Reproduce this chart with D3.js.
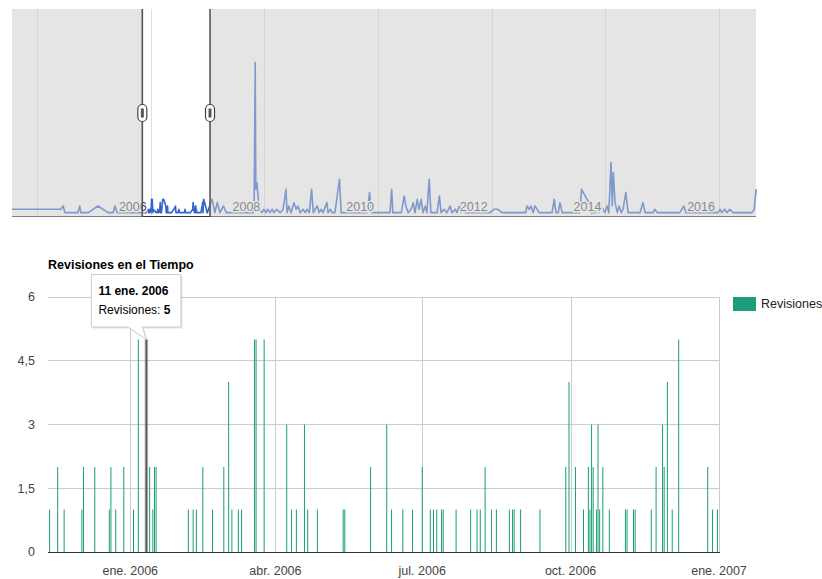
<!DOCTYPE html>
<html>
<head>
<meta charset="utf-8">
<script src="https://cdn.jsdelivr.net/npm/d3@7"></script>
<style>
body { margin: 0; background: #fff; }
svg { display: block; font-family: Arial, "Liberation Sans", sans-serif; }
</style>
</head>
<body>
<div id="chart"></div>
<script>
// daily revisions shown in the main chart
const revDates = ["2005-11-12", "2005-11-17", "2005-11-21", "2005-12-02", "2005-12-03", "2005-12-10", "2005-12-19", "2005-12-20", "2005-12-23", "2005-12-28",
    "2006-01-03", "2006-01-06", "2006-01-11", "2006-01-13", "2006-01-15", "2006-01-16", "2006-01-17",
    "2006-02-06", "2006-02-09", "2006-02-11", "2006-02-15", "2006-02-21", "2006-02-28", "2006-03-03", "2006-03-05", "2006-03-09", "2006-03-11", "2006-03-19", "2006-03-20", "2006-03-25",
    "2006-04-08", "2006-04-11", "2006-04-14", "2006-04-19", "2006-04-21", "2006-04-27",
    "2006-05-13", "2006-05-14", "2006-05-30", "2006-06-09", "2006-06-12", "2006-06-19", "2006-06-25",
    "2006-07-01", "2006-07-06", "2006-07-08", "2006-07-10", "2006-07-13", "2006-07-14", "2006-07-22",
    "2006-07-31", "2006-08-04", "2006-08-06", "2006-08-09", "2006-08-13", "2006-08-16", "2006-08-24", "2006-08-26", "2006-08-27", "2006-08-31",
    "2006-09-12", "2006-09-28", "2006-09-30",
    "2006-10-04", "2006-10-09", "2006-10-12", "2006-10-13", "2006-10-14", "2006-10-15", "2006-10-17", "2006-10-18", "2006-10-19", "2006-10-21", "2006-10-25",
    "2006-11-04", "2006-11-05", "2006-11-09", "2006-11-10", "2006-11-20", "2006-11-23", "2006-11-27", "2006-11-28", "2006-11-30", "2006-12-03", "2006-12-07", "2006-12-25", "2006-12-28", "2006-12-31"];
const revValues = [1, 2, 1, 1, 2, 2, 1, 2, 1, 2,
    1, 5, 5, 2, 1, 2, 2,
    1, 1, 1, 2, 1, 2, 4, 1, 1, 1, 5, 5, 5,
    3, 1, 1, 3, 1, 1,
    1, 1, 2, 3, 1, 1, 1,
    2, 1, 1, 1, 1, 1, 1,
    1, 1, 1, 2, 1, 1, 1, 1, 1, 1,
    1, 2, 4,
    2, 1, 2, 1, 3, 2, 1, 3, 1, 2, 1,
    1, 1, 1, 1, 1, 2, 3, 2, 4, 1, 5, 2, 1, 1];

// range filter series outside the main window (decimal years)
const navYears = [2003.56, 2004.42, 2004.46, 2004.49, 2004.72, 2004.75, 2004.77, 2004.90, 2005.07, 2005.25, 2005.34, 2005.37, 2005.41, 2005.81,
    2007.08, 2007.13, 2007.17, 2007.22, 2007.28, 2007.33, 2007.80, 2007.82, 2007.84, 2007.85, 2007.87, 2007.89, 2007.91, 2007.96, 2007.99,
    2008.03, 2008.06, 2008.10, 2008.14, 2008.17, 2008.22, 2008.28, 2008.33, 2008.38, 2008.40, 2008.43, 2008.47, 2008.52, 2008.56, 2008.59,
    2008.63, 2008.68, 2008.72, 2008.75, 2008.79, 2008.83, 2008.86, 2008.89, 2008.93, 2008.96, 2009.00, 2009.03, 2009.10, 2009.12, 2009.16,
    2009.19, 2009.24, 2009.32, 2009.35, 2009.81, 2009.85, 2009.88, 2010.21, 2010.24, 2010.26, 2010.41, 2010.46, 2010.49, 2010.53, 2010.58,
    2010.62, 2010.65, 2010.69, 2010.72, 2010.76, 2010.79, 2010.83, 2010.86, 2010.90, 2010.93, 2011.04, 2011.08, 2011.11, 2011.16, 2011.21,
    2011.27, 2011.30, 2011.36, 2011.39, 2011.43, 2011.46, 2011.50, 2011.53, 2011.97, 2012.04, 2012.11, 2012.18, 2012.60, 2012.62, 2012.66,
    2012.69, 2012.73, 2012.76, 2012.80, 2012.83, 2013.06, 2013.10, 2013.13, 2013.17, 2013.20, 2013.24, 2013.55, 2013.58, 2013.71, 2013.75,
    2013.82, 2013.85, 2013.89, 2013.92, 2013.96, 2013.99, 2014.03, 2014.06, 2014.10, 2014.12, 2014.14, 2014.17, 2014.21, 2014.24, 2014.28,
    2014.31, 2014.36, 2014.40, 2014.61, 2014.66, 2014.70, 2014.84, 2014.87, 2014.91, 2015.31, 2015.38, 2015.42, 2015.98, 2016.02, 2016.05,
    2016.10, 2016.14, 2016.19, 2016.25, 2016.58, 2016.62, 2016.65];
const navValues = [2, 2, 3, 1, 1, 3, 1, 1, 3, 1, 1, 3, 1, 1,
    5, 1, 4, 1, 3, 1, 1, 2, 46, 8, 10, 6, 2, 1, 2,
    1, 2, 1, 2, 1, 2, 1, 2, 8, 1, 3, 1, 4, 2, 3,
    1, 2, 1, 2, 1, 8, 1, 2, 3, 1, 2, 1, 4, 1, 2,
    1, 1, 11, 1, 1, 7, 1, 1, 8, 1, 1, 6, 3, 1, 2,
    4, 1, 5, 2, 5, 1, 3, 1, 11, 1, 1, 6, 1, 2, 1,
    3, 1, 2, 1, 3, 1, 2, 1, 1, 2, 2, 1, 1, 3, 2,
    3, 1, 3, 2, 1, 1, 5, 1, 1, 4, 1, 1, 8, 4, 1,
    1, 3, 1, 3, 2, 1, 3, 1, 16, 3, 13, 4, 1, 3, 1,
    2, 7, 1, 1, 4, 1, 1, 2, 1, 1, 3, 1, 1, 2, 1,
    2, 1, 2, 1, 1, 2, 8];

const yTicks = [0, 1.5, 3, 4.5, 6];
const yTickLabels = ["0", "1,5", "3", "4,5", "6"];
const xTickDates = ["2006-01-01", "2006-04-01", "2006-07-01", "2006-10-01", "2007-01-01"];
const xTickLabels = ["ene. 2006", "abr. 2006", "jul. 2006", "oct. 2006", "ene. 2007"];
const navGridYears = [2004, 2006, 2008, 2010, 2012, 2014, 2016];
const navLabelYears = [2006, 2008, 2010, 2012, 2014, 2016];
const monthNames = ["ene.", "feb.", "mar.", "abr.", "may.", "jun.", "jul.", "ago.", "sept.", "oct.", "nov.", "dic."];

const viewRange = ["2005-11-11", "2007-01-01"];
const selectionRange = ["2005-11-08", "2007-01-17"];
const navRange = [2003.56, 2016.65];
const selectedIndex = 12;
const seriesName = "Revisiones";
const chartTitle = "Revisiones en el Tiempo";

const width = 822;
const height = 579;
const green = "#1b9e77";
const blue = "#3366cc";

const parse = d3.timeParse("%Y-%m-%d");
const yearToDate = y => {
    const yr = Math.floor(y);
    const a = new Date(yr, 0, 1), b = new Date(yr + 1, 0, 1);
    return new Date(a.getTime() + (y - yr) * (b - a));
};

const revData = revDates.map((d, i) => ({ date: parse(d), value: revValues[i] }));
const navData = navYears.map((y, i) => ({ date: yearToDate(y), value: navValues[i] }))
    .concat(revData)
    .sort((a, b) => a.date - b.date);

const svg = d3.select("#chart").append("svg").attr("width", width).attr("height", height);

// ---------- range filter (navigator) ----------
const nav = { left: 12, right: 756, top: 9, bottom: 216 };

const xNav = d3.scaleTime()
    .domain(navRange.map(yearToDate))
    .range([nav.left, nav.right]);
const yNav = d3.scaleLinear().domain([0, 62]).range([nav.bottom, nav.top]);

const gNav = svg.append("g");

gNav.selectAll("line.navGrid")
    .data(navGridYears)
    .join("line")
    .attr("class", "navGrid")
    .attr("x1", d => Math.round(xNav(new Date(d, 0, 1))) + 0.5)
    .attr("x2", d => Math.round(xNav(new Date(d, 0, 1))) + 0.5)
    .attr("y1", nav.top)
    .attr("y2", nav.bottom)
    .attr("stroke", "#dedede");

const navLine = d3.line()
    .x(d => xNav(d.date))
    .y(d => yNav(d.value));

gNav.append("path")
    .datum(navData)
    .attr("fill", "none")
    .attr("stroke", blue)
    .attr("stroke-width", 1.6)
    .attr("stroke-linejoin", "round")
    .attr("d", navLine);

gNav.selectAll("text.navLabel")
    .data(navLabelYears)
    .join("text")
    .attr("class", "navLabel")
    .attr("x", d => xNav(new Date(d, 0, 1)) - 4)
    .attr("y", 211)
    .attr("text-anchor", "end")
    .attr("font-size", 12.5)
    .attr("fill", "#444")
    .attr("stroke", "#fff")
    .attr("stroke-width", 3)
    .attr("paint-order", "stroke")
    .text(d => d);

gNav.append("line")
    .attr("x1", nav.left).attr("x2", nav.right)
    .attr("y1", nav.bottom + 0.5).attr("y2", nav.bottom + 0.5)
    .attr("stroke", "#333");

const selX = selectionRange.map(d => xNav(parse(d)));

// shaded, unselected parts
gNav.selectAll("rect.shade")
    .data([[nav.left, selX[0]], [selX[1], nav.right]])
    .join("rect")
    .attr("class", "shade")
    .attr("x", d => d[0])
    .attr("y", nav.top)
    .attr("width", d => d[1] - d[0])
    .attr("height", nav.bottom - nav.top + 1)
    .attr("fill", "#cccccc")
    .attr("fill-opacity", 0.5);

gNav.selectAll("line.handle")
    .data(selX)
    .join("line")
    .attr("class", "handle")
    .attr("x1", d => d).attr("x2", d => d)
    .attr("y1", nav.top).attr("y2", nav.bottom + 1)
    .attr("stroke", "#555")
    .attr("stroke-width", 1.6);

const knobs = gNav.selectAll("g.knob")
    .data(selX)
    .join("g")
    .attr("class", "knob")
    .attr("transform", d => `translate(${d},113)`);

knobs.append("rect")
    .attr("x", -4.5).attr("y", -8.5)
    .attr("width", 9).attr("height", 17)
    .attr("rx", 4.5)
    .attr("fill", "#fff")
    .attr("stroke", "#444")
    .attr("stroke-width", 1.2);

knobs.append("rect")
    .attr("x", -1.5).attr("y", -4.5)
    .attr("width", 3).attr("height", 9)
    .attr("fill", "#555");

// ---------- main column chart ----------
const plot = { left: 48, right: 719, top: 297, bottom: 552 };

const xScale = d3.scaleTime()
    .domain(viewRange.map(parse))
    .range([plot.left, plot.right]);
const yScale = d3.scaleLinear().domain([0, 6]).range([plot.bottom, plot.top]);

const g = svg.append("g");

g.selectAll("line.hGrid")
    .data(yTicks.slice(1))
    .join("line")
    .attr("class", "hGrid")
    .attr("x1", plot.left).attr("x2", plot.right + 1)
    .attr("y1", d => Math.floor(yScale(d)) + 0.5)
    .attr("y2", d => Math.floor(yScale(d)) + 0.5)
    .attr("stroke", "#cccccc");

g.selectAll("line.vGrid")
    .data(xTickDates)
    .join("line")
    .attr("class", "vGrid")
    .attr("x1", d => Math.round(xScale(parse(d))) + 0.5)
    .attr("x2", d => Math.round(xScale(parse(d))) + 0.5)
    .attr("y1", plot.top)
    .attr("y2", plot.bottom)
    .attr("stroke", "#cccccc");

g.selectAll("rect.bar")
    .data(revData)
    .join("rect")
    .attr("class", "bar")
    .attr("x", d => xScale(d.date) - 0.5)
    .attr("width", 1)
    .attr("y", d => yScale(d.value))
    .attr("height", d => yScale(0) - yScale(d.value))
    .attr("fill", green);

g.append("line")
    .attr("x1", plot.left).attr("x2", plot.right + 1)
    .attr("y1", plot.bottom + 0.5).attr("y2", plot.bottom + 0.5)
    .attr("stroke", "#333");

g.selectAll("text.yLabel")
    .data(yTicks)
    .join("text")
    .attr("class", "yLabel")
    .attr("x", plot.left - 13)
    .attr("y", d => yScale(d))
    .attr("dy", "0.35em")
    .attr("text-anchor", "end")
    .attr("font-size", 12.5)
    .attr("fill", "#444")
    .text((d, i) => yTickLabels[i]);

g.selectAll("text.xLabel")
    .data(xTickDates)
    .join("text")
    .attr("class", "xLabel")
    .attr("x", d => xScale(parse(d)))
    .attr("y", 575)
    .attr("text-anchor", "middle")
    .attr("font-size", 12.5)
    .attr("fill", "#444")
    .text((d, i) => xTickLabels[i]);

g.append("text")
    .attr("x", plot.left)
    .attr("y", 269)
    .attr("font-size", 12.5)
    .attr("font-weight", "bold")
    .attr("fill", "#000")
    .text(chartTitle);

// legend
const legend = g.append("g").attr("transform", "translate(733,297)");
legend.append("rect")
    .attr("width", 23).attr("height", 14)
    .attr("fill", green);
legend.append("text")
    .attr("x", 28).attr("y", 7)
    .attr("dy", "0.35em")
    .attr("font-size", 12.5)
    .attr("fill", "#222")
    .text(seriesName);

// hovered column + tooltip
const sel = revData[selectedIndex];
const tipX = xScale(sel.date);
const tipY = yScale(sel.value);

g.append("rect")
    .attr("x", tipX - 1.8).attr("width", 3.6)
    .attr("y", tipY).attr("height", yScale(0) - tipY)
    .attr("fill", "#999").attr("fill-opacity", 0.6);
g.append("rect")
    .attr("x", tipX - 0.8).attr("width", 1.6)
    .attr("y", tipY).attr("height", yScale(0) - tipY)
    .attr("fill", "#555");

const box = { left: tipX - 55, right: tipX + 34.5, top: tipY - 65, bottom: tipY - 12.5 };
const tipPath = `M${box.left},${box.top}H${box.right}V${box.bottom}H${tipX - 4}L${tipX},${tipY}L${tipX - 18.5},${box.bottom}H${box.left}Z`;

g.append("path")
    .attr("d", tipPath)
    .attr("transform", "translate(1.5,1.5)")
    .attr("fill", "#000")
    .attr("fill-opacity", 0.12);
g.append("path")
    .attr("d", tipPath)
    .attr("fill", "#fff")
    .attr("stroke", "#cccccc");

const tipText = g.append("text")
    .attr("font-size", 12)
    .attr("fill", "#000");
tipText.append("tspan")
    .attr("x", box.left + 7).attr("y", box.top + 20.5)
    .attr("font-weight", "bold")
    .text(`${sel.date.getDate()} ${monthNames[sel.date.getMonth()]} ${sel.date.getFullYear()}`);
const line2 = tipText.append("tspan")
    .attr("x", box.left + 7).attr("y", box.top + 39);
line2.append("tspan").text(`${seriesName}: `);
line2.append("tspan").attr("font-weight", "bold").text(sel.value);
</script>
</body>
</html>
